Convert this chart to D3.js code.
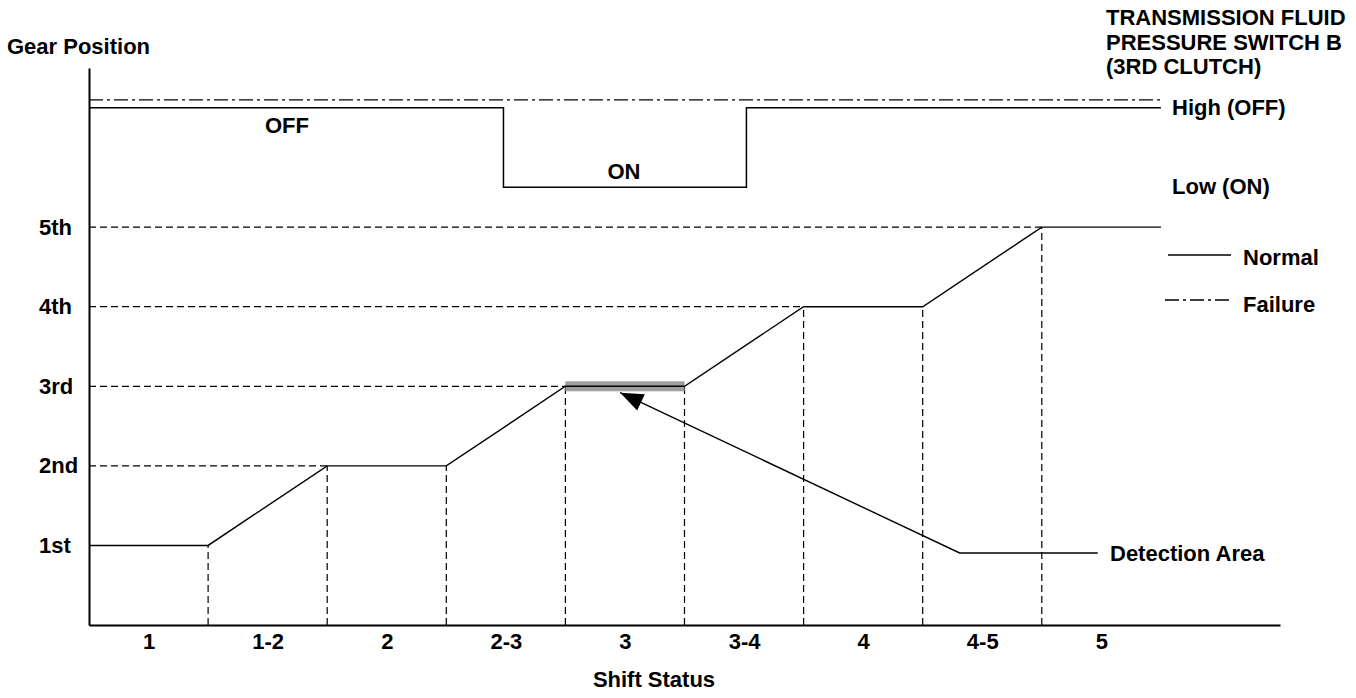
<!DOCTYPE html>
<html>
<head>
<meta charset="utf-8">
<script src="https://cdn.jsdelivr.net/npm/d3@7"></script>
<style>
  html, body { margin: 0; padding: 0; background: #fff; }
  svg text { font-family: "Liberation Sans", Arial, sans-serif; font-weight: bold; font-size: 22px; fill: #000; }
</style>
</head>
<body>
<svg id="chart" width="1356" height="698"></svg>
<script>
// ---- data ----
const shiftStatus = ["1", "1-2", "2", "2-3", "3", "3-4", "4", "4-5", "5"];
const gearLabels = ["1st", "2nd", "3rd", "4th", "5th"];
const gearTicks = [1, 2, 3, 4, 5];
// gear position at each shift-status boundary (x in status units)
const gearX = [0, 1, 2, 3, 4, 5, 6, 7, 8, 9];
const gearY = [1, 1, 2, 2, 3, 3, 4, 4, 5, 5];
// pressure switch B (normal): x positions and level (6.5 = High/OFF, 5.5 = Low/ON)
const switchX = [0, 3.48, 3.48, 5.52, 5.52, 9];
const switchY = [6.5, 6.5, 5.5, 5.5, 6.5, 6.5];
// failure: stays High
const failureX = [0, 9];
const failureY = [6.6, 6.6];
// detection area (3rd gear held, status "3")
const detectionBand = [4, 5];
const detectionGear = 3;
// detection callout: arrow tip -> elbow -> end
const calloutX = [4.46, 7.31, 8.47];
const calloutY = [2.92, 0.905, 0.905];

// ---- layout ----
const svg = d3.select("#chart");
svg.append("rect").attr("width", 1356).attr("height", 698).attr("fill", "#fff");
const x = d3.scaleLinear().domain([0, 10]).range([89, 1280]);
const y = d3.scaleLinear().domain([0, 7]).range([625, 68]);
const DASH = "7,4";
const DASHDOT = "14,4,3,4";

function firstReach(g) {
  for (let i = 0; i < gearY.length; i++) if (gearY[i] >= g) return gearX[i];
  return 0;
}

// horizontal dashed guides
svg.append("g").selectAll("line").data(gearTicks.filter(g => g > 1)).join("line")
  .attr("x1", x(0)).attr("x2", g => x(firstReach(g)))
  .attr("y1", g => y(g)).attr("y2", g => y(g))
  .attr("stroke", "#000").attr("stroke-width", 1.2).attr("stroke-dasharray", DASH);

// vertical dashed guides at boundaries
const bounds = gearX.filter(v => v > 0 && v < 9);
svg.append("g").selectAll("line").data(bounds).join("line")
  .attr("x1", d => x(d)).attr("x2", d => x(d))
  .attr("y1", y(0)).attr("y2", d => y(gearY[gearX.indexOf(d)]))
  .attr("stroke", "#000").attr("stroke-width", 1.2).attr("stroke-dasharray", DASH);

// detection band
svg.append("rect")
  .attr("x", x(detectionBand[0])).attr("width", x(detectionBand[1]) - x(detectionBand[0]))
  .attr("y", y(detectionGear) - 5).attr("height", 10)
  .attr("fill", "#9e9e9e");

// gear line
const line = d3.line().x(d => x(d[0])).y(d => y(d[1]));
svg.append("path").datum(gearX.map((v, i) => [v, gearY[i]]))
  .attr("d", line).attr("fill", "none").attr("stroke", "#000").attr("stroke-width", 1.4);

// switch normal
svg.append("path").datum(switchX.map((v, i) => [v, switchY[i]]))
  .attr("d", line).attr("fill", "none").attr("stroke", "#000").attr("stroke-width", 1.5);
// switch failure
svg.append("path").datum(failureX.map((v, i) => [v, failureY[i]]))
  .attr("d", line).attr("fill", "none").attr("stroke", "#000").attr("stroke-width", 1.3)
  .attr("stroke-dasharray", DASHDOT);

// axes
const xAxis = d3.axisBottom(x).tickValues(shiftStatus.map((s, i) => i + 0.5))
  .tickFormat((d, i) => shiftStatus[i]).tickSize(0).tickSizeOuter(0).tickPadding(8);
const gx = svg.append("g").attr("transform", `translate(0,${y(0)})`).call(xAxis);
gx.select(".domain").attr("stroke", "#000").attr("stroke-width", 2);
gx.selectAll("text").attr("font-size", 22).attr("font-family", null);

const yAxis = d3.axisLeft(y).tickValues(gearTicks).tickFormat((d, i) => gearLabels[i])
  .tickSize(0).tickSizeOuter(0);
const gy = svg.append("g").attr("transform", `translate(${x(0)},0)`).call(yAxis);
gy.select(".domain").attr("stroke", "#000").attr("stroke-width", 2);
gy.selectAll("text").attr("font-size", 22).attr("font-family", null)
  .attr("text-anchor", "start").attr("x", 39 - x(0));

// callout with arrow
const cpts = calloutX.map((v, i) => [x(v), y(calloutY[i])]);
svg.append("path").datum(cpts).attr("d", d3.line())
  .attr("fill", "none").attr("stroke", "#000").attr("stroke-width", 1.4);
{
  const [tx, ty] = cpts[0], [bx, by] = cpts[1];
  const L = Math.hypot(bx - tx, by - ty), ux = (bx - tx) / L, uy = (by - ty) / L;
  const len = 23, hw = 9;
  const cx = tx + ux * len, cy = ty + uy * len;
  svg.append("path")
    .attr("d", `M${tx},${ty}L${cx - uy * hw},${cy + ux * hw}L${cx + uy * hw},${cy - ux * hw}Z`)
    .attr("fill", "#000");
}

// text
const T = (tx, ty, s, anchor) => svg.append("text").attr("x", tx).attr("y", ty)
  .attr("text-anchor", anchor || "start").text(s);
T(7, 54, "Gear Position");
T(1106, 25, "TRANSMISSION FLUID");
T(1106, 50, "PRESSURE SWITCH B");
T(1106, 74, "(3RD CLUTCH)");
T(1172, 115, "High (OFF)");
T(1172, 194, "Low (ON)");
T(287, 133, "OFF", "middle");
T(624, 179, "ON", "middle");
T(1110, 561, "Detection Area");
T(654, 687, "Shift Status", "middle");

// legend
svg.append("line").attr("x1", 1168).attr("x2", 1231).attr("y1", 255).attr("y2", 255)
  .attr("stroke", "#000").attr("stroke-width", 1.4);
T(1243, 265, "Normal");
svg.append("line").attr("x1", 1165).attr("x2", 1232).attr("y1", 300).attr("y2", 300)
  .attr("stroke", "#000").attr("stroke-width", 1.4).attr("stroke-dasharray", DASHDOT);
T(1243, 312, "Failure");
</script>
</body>
</html>
